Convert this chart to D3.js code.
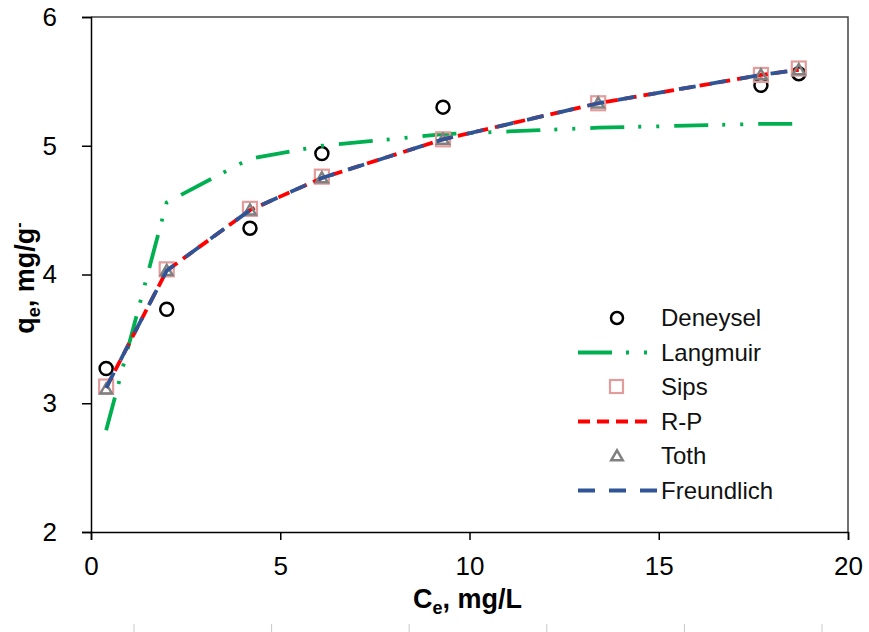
<!DOCTYPE html>
<html lang="en">
<head>
<meta charset="UTF-8">
<title>Isotherms</title>
<script src="https://d3js.org/d3.v7.min.js"></script>
<style>
  body { margin: 0; background: #fff; }
  text { font-family: "Liberation Sans", Arial, sans-serif; }
</style>
</head>
<body>
<script>
// experimental points
var ceExp = [0.4, 2.0, 4.2, 6.1, 9.3, 17.7, 18.7];
var qeExp = [3.27, 3.73, 4.36, 4.94, 5.30, 5.47, 5.56];

// model curves
var ceModel = [0.4, 2.0, 4.2, 6.1, 9.3, 13.4, 17.7, 18.7];
var langmuir = [2.79, 4.56, 4.90, 5.00, 5.09, 5.14, 5.17, 5.17];
var sips = [3.13, 4.04, 4.51, 4.76, 5.05, 5.33, 5.55, 5.60];
var rp = [3.12, 4.03, 4.50, 4.75, 5.05, 5.33, 5.55, 5.59];
var toth = [3.11, 4.03, 4.50, 4.75, 5.05, 5.33, 5.55, 5.59];
var freundlich = [3.12, 4.03, 4.50, 4.75, 5.05, 5.33, 5.55, 5.59];

var xTicks = [0, 5, 10, 15, 20];
var yTicks = [2, 3, 4, 5, 6];
var legendNames = ["Deneysel", "Langmuir", "Sips", "R-P", "Toth", "Freundlich"];

var width = 869, height = 632;
var mLeft = 91, mRight = 848, mTop = 17, mBottom = 532;

var svg = d3.select("body").append("svg").attr("width", width).attr("height", height);

var x = d3.scaleLinear().domain([0, 20]).range([mLeft, mRight]);
var y = d3.scaleLinear().domain([2, 6]).range([mBottom, mTop]);

// frame (top + right)
svg.append("path")
    .attr("d", "M" + mLeft + "," + mTop + "H" + mRight + "V" + mBottom)
    .attr("fill", "none").attr("stroke", "#444").attr("stroke-width", 1.5);

// axes
var xAxis = svg.append("g").attr("transform", "translate(0," + mBottom + ")")
    .call(d3.axisBottom(x).tickValues(xTicks).tickFormat(d3.format("d")).tickSize(8).tickPadding(17));
var yAxis = svg.append("g").attr("transform", "translate(" + mLeft + ",0)")
    .call(d3.axisLeft(y).tickValues(yTicks).tickFormat(d3.format("d")).tickSize(9).tickPadding(25));
[xAxis, yAxis].forEach(function(a) {
    a.select(".domain").attr("stroke", "#000").attr("stroke-width", 1.5);
    a.selectAll(".tick line").attr("stroke", "#000").attr("stroke-width", 1.5);
    a.selectAll(".tick text").attr("font-size", 26).attr("fill", "#000")
        .style("font-family", "'Liberation Sans', Arial, sans-serif");
});

// axis titles
var xt = svg.append("text").attr("x", (mLeft + mRight) / 2 - 2).attr("y", 608)
    .attr("text-anchor", "middle").attr("font-size", 27).attr("font-weight", "bold");
xt.append("tspan").text("C");
xt.append("tspan").text("e").attr("font-size", 18).attr("dy", 6);
xt.append("tspan").text(", mg/L").attr("dy", -6);

var yt = svg.append("text").attr("transform", "translate(34,278) rotate(-90)")
    .attr("text-anchor", "middle").attr("font-size", 27).attr("font-weight", "bold");
yt.append("tspan").text("q");
yt.append("tspan").text("e").attr("font-size", 18).attr("dy", 6);
yt.append("tspan").text(", mg/g").attr("dy", -6);
yt.append("tspan").text("-").attr("font-size", 16).attr("dy", -10);

function pts(vals) {
    return ceModel.map(function(c, i) { return [c, vals[i]]; });
}
var line = d3.line().x(function(d) { return x(d[0]); }).y(function(d) { return y(d[1]); });

var styles = {
    langmuir: { color: "#00b050", dash: "34 14 3 15 3 15", w: 3.8, len: 74 },
    rp: { color: "#ff0000", dash: "12 7", w: 3.8, len: 74 },
    freundlich: { color: "#2f5597", dash: "17 14", w: 3.8, len: 80 }
};
var circleR = 6.5, sq = 14;
var triPath = d3.symbol().type(d3.symbolTriangle).size(58);

function drawLine(vals, s) {
    svg.append("path").datum(pts(vals)).attr("d", line)
        .attr("fill", "none").attr("stroke", s.color).attr("stroke-width", s.w)
        .attr("stroke-dasharray", s.dash);
}

// Deneysel
svg.append("g").selectAll("circle").data(ceExp).enter().append("circle")
    .attr("cx", function(d) { return x(d); })
    .attr("cy", function(d, i) { return y(qeExp[i]); })
    .attr("r", circleR).attr("fill", "none").attr("stroke", "#000").attr("stroke-width", 2.5);

drawLine(langmuir, styles.langmuir);

// Sips
svg.append("g").selectAll("rect").data(pts(sips)).enter().append("rect")
    .attr("x", function(d) { return x(d[0]) - sq / 2; })
    .attr("y", function(d) { return y(d[1]) - sq / 2; })
    .attr("width", sq).attr("height", sq)
    .attr("fill", "none").attr("stroke", "#e29c9c").attr("stroke-width", 2.2);

drawLine(rp, styles.rp);

// Toth
svg.append("g").selectAll("path").data(pts(toth)).enter().append("path")
    .attr("d", triPath)
    .attr("transform", function(d) { return "translate(" + x(d[0]) + "," + (y(d[1]) + 1) + ")"; })
    .attr("fill", "none").attr("stroke", "#808080").attr("stroke-width", 2.5);

drawLine(freundlich, styles.freundlich);

// legend
var lg = svg.append("g").attr("transform", "translate(578,318)");
var rowH = 34.5;
legendNames.forEach(function(name, i) {
    var row = lg.append("g").attr("transform", "translate(0," + i * rowH + ")");
    if (name === "Deneysel") {
        row.append("circle").attr("cx", 39).attr("cy", 0).attr("r", 6)
            .attr("fill", "none").attr("stroke", "#000").attr("stroke-width", 2.5);
    } else if (name === "Sips") {
        row.append("rect").attr("x", 32).attr("y", -7).attr("width", 13).attr("height", 13)
            .attr("fill", "none").attr("stroke", "#e29c9c").attr("stroke-width", 2.2);
    } else if (name === "Toth") {
        row.append("path").attr("d", triPath).attr("transform", "translate(39,1)")
            .attr("fill", "none").attr("stroke", "#808080").attr("stroke-width", 2.5);
    } else {
        var s = name === "Langmuir" ? styles.langmuir : name === "R-P" ? styles.rp : styles.freundlich;
        row.append("line").attr("x1", 0).attr("x2", s.len).attr("y1", 0).attr("y2", 0)
            .attr("stroke", s.color).attr("stroke-width", s.w).attr("stroke-dasharray", s.dash);
    }
    row.append("text").attr("x", 83).attr("y", 0).attr("dy", "0.35em")
        .attr("font-size", 24).attr("fill", "#111").text(name);
});

// faint ruler marks under the chart
var ruler = d3.range(6).map(function(i) { return 134 + i * 137.6; });
svg.append("g").selectAll("line").data(ruler).enter().append("line")
    .attr("x1", function(d) { return d; }).attr("x2", function(d) { return d; })
    .attr("y1", 624).attr("y2", 632).attr("stroke", "#c8c8c8").attr("stroke-width", 1);
</script>
</body>
</html>
